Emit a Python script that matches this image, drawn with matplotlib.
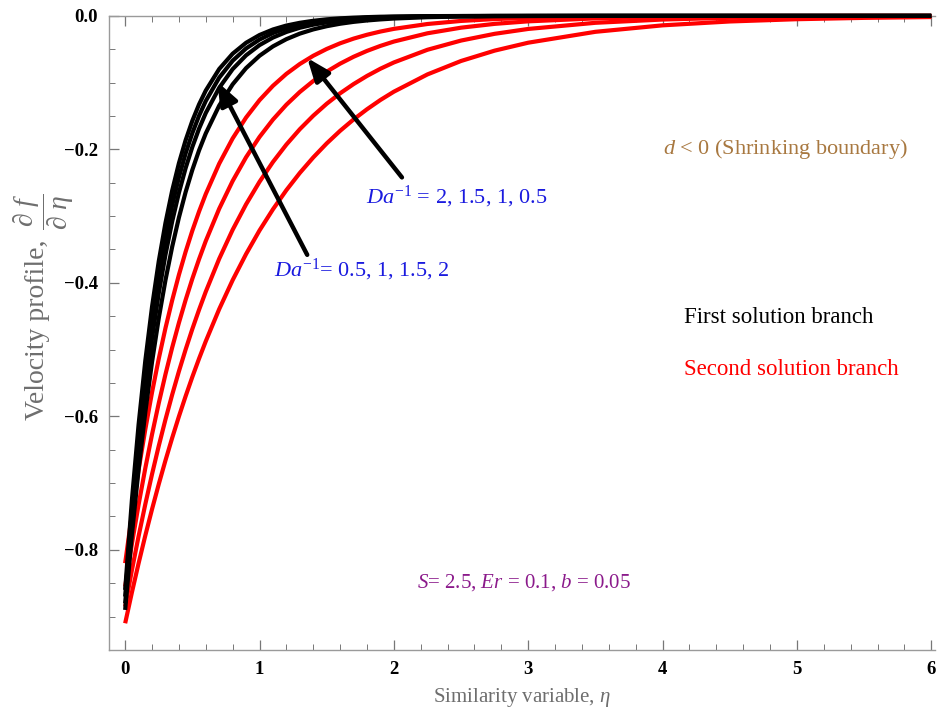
import matplotlib
matplotlib.use("Agg")
import matplotlib.pyplot as plt
from matplotlib.ticker import MultipleLocator

plt.rcParams['mathtext.fontset'] = 'custom'
plt.rcParams['mathtext.rm'] = 'Liberation Serif'
plt.rcParams['mathtext.it'] = 'Liberation Serif:italic'
plt.rcParams['mathtext.bf'] = 'Liberation Serif:bold'
plt.rcParams['font.family'] = ['Liberation Serif', 'DejaVu Serif']

eta = [0, 0.05, 0.1, 0.15, 0.2, 0.25, 0.3, 0.35, 0.4, 0.45, 0.5, 0.55, 0.6,
       0.7, 0.8, 0.9, 1.0, 1.1, 1.2, 1.3, 1.4, 1.5, 1.6, 1.7, 1.8, 1.9, 2.0,
       2.25, 2.5, 2.75, 3.0, 3.5, 4.0, 4.5, 5.0, 5.5, 6.0]

# First solution branch (black), Da^-1 = 0.5 ... 2
first_1 = [-0.860, -0.7256, -0.6122, -0.5165, -0.4358, -0.3677, -0.3102, -0.2617, -0.2208, -0.1863,
           -0.1572, -0.1326, -0.1119,
           -0.0796, -0.0567, -0.0403, -0.0287, -0.0204, -0.0145, -0.0104, -0.0074, -0.0052,
           -0.0037, -0.0027, -0.0019, -0.0013, -0.0010,
           -0.0004, -0.0002, -0.0001, 0, 0, 0, 0, 0, 0, 0]
first_2 = [-0.870, -0.7413, -0.6317, -0.5383, -0.4587, -0.3908, -0.3330, -0.2838, -0.2418, -0.2060,
           -0.1756, -0.1496, -0.1275,
           -0.0926, -0.0672, -0.0488, -0.0355, -0.0257, -0.0187, -0.0136, -0.0099, -0.0072,
           -0.0052, -0.0038, -0.0027, -0.0020, -0.0014,
           -0.0006, -0.0003, -0.0001, -0.0001, 0, 0, 0, 0, 0, 0]
first_3 = [-0.880, -0.7574, -0.6519, -0.5611, -0.4830, -0.4157, -0.3578, -0.3080, -0.2651, -0.2281,
           -0.1964, -0.1690, -0.1455,
           -0.1078, -0.0798, -0.0591, -0.0438, -0.0325, -0.0241, -0.0178, -0.0132, -0.0098,
           -0.0073, -0.0054, -0.0040, -0.0030, -0.0022,
           -0.0010, -0.0005, -0.0002, -0.0001, 0, 0, 0, 0, 0, 0]
first_4 = [-0.890, -0.7776, -0.6794, -0.5936, -0.5186, -0.4531, -0.3959, -0.3459, -0.3022, -0.2640,
           -0.2307, -0.2015, -0.1761,
           -0.1344, -0.1026, -0.0783, -0.0598, -0.0457, -0.0349, -0.0266, -0.0203, -0.0155,
           -0.0118, -0.0090, -0.0069, -0.0053, -0.0040,
           -0.0020, -0.0010, -0.0005, -0.0003, -0.0001, 0, 0, 0, 0, 0]

# Second solution branch (red), Da^-1 = 2 ... 0.5
second_1 = [-0.820, -0.7468, -0.6801, -0.6194, -0.5641, -0.5137, -0.4678, -0.4261, -0.3880, -0.3534,
            -0.3218, -0.2931, -0.2669,
            -0.2214, -0.1836, -0.1523, -0.1263, -0.1048, -0.0869, -0.0721, -0.0598, -0.0496,
            -0.0411, -0.0341, -0.0283, -0.0235, -0.0195,
            -0.0122, -0.0076, -0.0048, -0.0030, -0.0012, -0.0005, -0.0002, -0.0001, 0, 0]
second_2 = [-0.855, -0.7912, -0.7322, -0.6776, -0.6270, -0.5803, -0.5370, -0.4969, -0.4599, -0.4256,
            -0.3938, -0.3645, -0.3373,
            -0.2889, -0.2474, -0.2118, -0.1814, -0.1554, -0.1331, -0.1140, -0.0976, -0.0836,
            -0.0716, -0.0613, -0.0525, -0.0450, -0.0385,
            -0.0261, -0.0177, -0.0120, -0.0082, -0.0038, -0.0017, -0.0008, -0.0004, -0.0002, -0.0001]
second_3 = [-0.885, -0.8306, -0.7795, -0.7316, -0.6866, -0.6443, -0.6047, -0.5675, -0.5326, -0.4999,
            -0.4691, -0.4403, -0.4132,
            -0.3639, -0.3205, -0.2823, -0.2486, -0.2189, -0.1928, -0.1698, -0.1496, -0.1317,
            -0.1160, -0.1022, -0.0900, -0.0792, -0.0698,
            -0.0508, -0.0370, -0.0269, -0.0196, -0.0104, -0.0055, -0.0029, -0.0015, -0.0008, -0.0004]
second_4 = [-0.910, -0.8639, -0.8201, -0.7785, -0.7391, -0.7016, -0.6660, -0.6323, -0.6002, -0.5698,
            -0.5409, -0.5135, -0.4875,
            -0.4393, -0.3959, -0.3568, -0.3215, -0.2898, -0.2611, -0.2353, -0.2121, -0.1911,
            -0.1722, -0.1552, -0.1399, -0.1260, -0.1136,
            -0.0877, -0.0676, -0.0521, -0.0402, -0.0239, -0.0142, -0.0084, -0.0050, -0.0030, -0.0018]

first_branch = [first_1, first_2, first_3, first_4]
second_branch = [second_1, second_2, second_3, second_4]

x_ticks = [0, 1, 2, 3, 4, 5, 6]
y_ticks = [-0.8, -0.6, -0.4, -0.2, 0.0]

fig = plt.figure(figsize=(9.4, 7.21), dpi=100)
ax = fig.add_axes([0.116, 0.0985, 0.879, 0.8795])

for ys in second_branch:
    ax.plot(eta, ys, color='#ff0000', lw=3.0, clip_on=False, solid_capstyle='butt',
            solid_joinstyle='round', zorder=3)
for ys in first_branch:
    ax.plot(eta, ys, color='black', lw=3.0, clip_on=False, solid_capstyle='butt',
            solid_joinstyle='round', zorder=4)

ax.set_xlim(-0.12, 6.03)
ax.set_ylim(-0.95, 0.0)

ax.set_xticks(x_ticks)
ax.set_yticks(y_ticks)
ax.set_xticklabels([str(t) for t in x_ticks])
ax.set_yticklabels(['\u2212%.1f' % abs(t) if t < 0 else '%.1f' % t for t in y_ticks])
ax.xaxis.set_minor_locator(MultipleLocator(0.2))
ax.yaxis.set_minor_locator(MultipleLocator(0.05))

for sp in ['left', 'bottom', 'top']:
    ax.spines[sp].set_color('#9a9a9a')
    ax.spines[sp].set_linewidth(1.0)
ax.spines['right'].set_visible(False)

ax.tick_params(which='both', direction='in', color='#777777', top=True, labeltop=False,
               right=False)
ax.tick_params(which='major', length=7, width=0.9)
ax.tick_params(which='minor', length=4, width=0.7)
ax.tick_params(axis='both', labelsize=13.5, pad=8)
for lab in ax.get_xticklabels() + ax.get_yticklabels():
    lab.set_fontweight('bold')

ax.set_xlabel(r'Similarity variable, $\eta$', fontsize=15, color='#6e6e6e', labelpad=6)
# y-axis label: text body and the derivative fraction
fig.text(0.040, 1 - 330 / 721, 'Velocity profile,', fontsize=20,
         color='#6e6e6e', rotation=90, ha='center', va='center')
fig.text(0.046, 1 - 212 / 721, r'$\dfrac{\partial\ f}{\partial\ \eta}$', fontsize=20,
         color='#6e6e6e', rotation=90, ha='center', va='center')

# Arrows
arrow_kw = dict(arrowstyle='-|>,head_length=1.4,head_width=0.55', color='black', lw=3.2,
                shrinkA=0, shrinkB=0)
ax.annotate('', xy=(1.355, -0.063), xytext=(2.06, -0.242), arrowprops=arrow_kw, zorder=6)
ax.annotate('', xy=(0.687, -0.099), xytext=(1.355, -0.358), arrowprops=arrow_kw, zorder=6)

blue = '#1a1adf'
ax.text(1.79, -0.272, r'$Da^{-\mathit{1}}$ = 2, 1.5, 1, 0.5', color=blue, fontsize=16,
        ha='left', va='center')
ax.text(1.11, -0.381, r'$Da^{-\mathit{1}}$= 0.5, 1, 1.5, 2', color=blue, fontsize=16,
        ha='left', va='center')
ax.text(4.0, -0.200, r'$d$ < 0 (Shrinking boundary)', color='#a87840', fontsize=16,
        ha='left', va='center')
ax.text(4.16, -0.452, 'First solution branch', color='black', fontsize=16.5,
        ha='left', va='center')
ax.text(4.16, -0.530, 'Second solution branch', color='#ff0000', fontsize=16.5,
        ha='left', va='center')
ax.text(2.17, -0.849, r'$S$= 2.5, $Er$ = 0.1, $b$ = 0.05', color='#8b1a8b', fontsize=15,
        ha='left', va='center')

fig.savefig('out.png', dpi=100)
